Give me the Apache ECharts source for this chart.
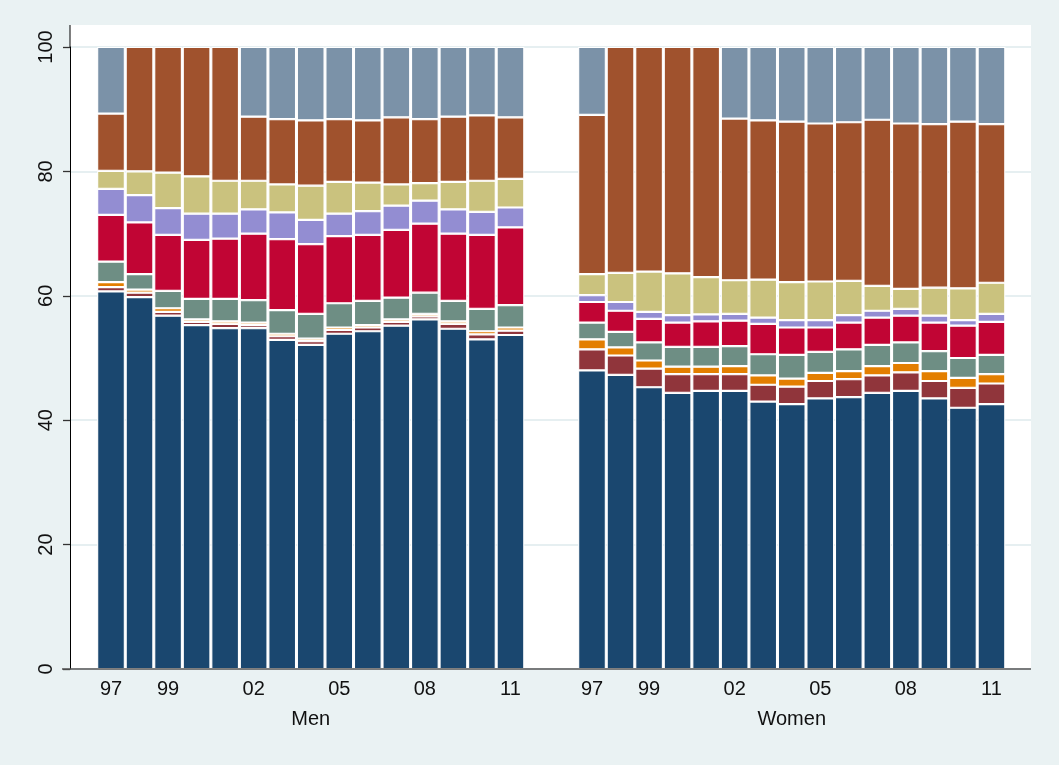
<!DOCTYPE html>
<html>
<head>
<meta charset="utf-8">
<script src="https://cdn.jsdelivr.net/npm/echarts@6/dist/echarts.min.js"></script>
<style>
  html, body { margin: 0; padding: 0; background: #eaf2f3; }
  #chart { width: 1059px; height: 765px; }
</style>
</head>
<body>
<div id="chart"></div>
<script>
// ---- Data (percent shares, stacked bottom to top) ----
const years = ['1997','1998','1999','2000','2001','2002','2003','2004','2005','2006','2007','2008','2009','2010','2011'];
const shownYears = ['1997','1999','2002','2005','2008','2011'];
const groupNames = ['Men', 'Women'];
const yTickStep = 20;

const menNavy      = [60.7, 59.8, 56.8, 55.3, 54.8, 54.8, 52.9, 52.1, 53.9, 54.3, 55.2, 56.2, 54.7, 53.0, 53.7];
const menMaroon    = [0.7, 0.7, 0.6, 0.5, 0.7, 0.5, 0.6, 0.6, 0.6, 0.6, 0.6, 0.5, 0.8, 0.8, 0.7];
const menOrange    = [0.8, 0.5, 0.6, 0.4, 0.4, 0.4, 0.4, 0.4, 0.4, 0.4, 0.4, 0.4, 0.4, 0.5, 0.5];
const menTeal      = [3.3, 2.5, 2.8, 3.3, 3.6, 3.6, 3.8, 4.0, 3.9, 3.9, 3.5, 3.4, 3.3, 3.6, 3.6];
const menCranberry = [7.5, 8.3, 9.0, 9.5, 9.7, 10.7, 11.4, 11.2, 10.8, 10.6, 10.9, 11.1, 10.8, 11.9, 12.5];
const menLavender  = [4.2, 4.4, 4.3, 4.2, 4.0, 3.9, 4.3, 3.9, 3.6, 3.8, 3.9, 3.7, 3.9, 3.7, 3.2];
const menKhaki     = [2.9, 3.8, 5.7, 6.0, 5.3, 4.6, 4.5, 5.5, 5.1, 4.6, 3.4, 2.8, 4.4, 5.0, 4.6];
const menSienna    = [9.2, 20.0, 20.2, 20.8, 21.5, 10.3, 10.5, 10.5, 10.1, 10.0, 10.8, 10.3, 10.5, 10.5, 9.9];
const menBlueGray  = [10.7, null, null, null, null, 11.2, 11.6, 11.8, 11.6, 11.8, 11.3, 11.6, 11.2, 11.0, 11.3];

const womenNavy      = [48.0, 47.3, 45.3, 44.4, 44.7, 44.7, 43.0, 42.6, 43.5, 43.7, 44.4, 44.7, 43.5, 42.0, 42.6];
const womenMaroon    = [3.4, 3.1, 3.0, 3.0, 2.7, 2.7, 2.7, 2.8, 2.8, 2.9, 2.8, 3.0, 2.8, 3.2, 3.3];
const womenOrange    = [1.6, 1.3, 1.3, 1.2, 1.2, 1.3, 1.5, 1.3, 1.3, 1.3, 1.5, 1.5, 1.6, 1.6, 1.5];
const womenTeal      = [2.7, 2.5, 2.9, 3.2, 3.2, 3.2, 3.4, 3.8, 3.4, 3.5, 3.4, 3.3, 3.2, 3.2, 3.1];
const womenCranberry = [3.3, 3.4, 3.8, 3.9, 4.1, 4.1, 4.9, 4.4, 3.9, 4.3, 4.4, 4.3, 4.6, 5.2, 5.3];
const womenLavender  = [1.1, 1.4, 1.1, 1.2, 1.1, 1.1, 1.0, 1.2, 1.2, 1.2, 1.1, 1.1, 1.1, 0.9, 1.3];
const womenKhaki     = [3.4, 4.7, 6.5, 6.7, 6.0, 5.4, 6.1, 6.1, 6.2, 5.5, 4.0, 3.2, 4.5, 5.1, 5.0];
const womenSienna    = [25.6, 36.3, 36.1, 36.4, 37.0, 26.0, 25.6, 25.8, 25.4, 25.5, 26.7, 26.6, 26.3, 26.8, 25.5];
const womenBlueGray  = [10.9, null, null, null, null, 11.5, 11.8, 12.0, 12.3, 12.1, 11.7, 12.3, 12.4, 12.0, 12.4];

const segmentNames = ['Category 1','Category 2','Category 3','Category 4','Category 5','Category 6','Category 7','Category 8','Category 9'];
const menSeries = [menNavy, menMaroon, menOrange, menTeal, menCranberry, menLavender, menKhaki, menSienna, menBlueGray];
const womenSeries = [womenNavy, womenMaroon, womenOrange, womenTeal, womenCranberry, womenLavender, womenKhaki, womenSienna, womenBlueGray];

// ---- Styling ----
const colors = ['#1a476f', '#90353b', '#e37e00', '#6e8e84', '#c10534', '#938dd2', '#cac27e', '#a0522d', '#7b92a8'];
const FONT = 'Liberation Sans, Arial, sans-serif';
const bgColor = '#eaf2f3';

const plotLeft = 70, plotRight = 1031, plotTop = 25, yTop = 47, plotBottom = 669;
const W = 1059, H = 765;
const pitch = (plotRight - plotLeft) / 33.68;
const menLeft = 111 - pitch / 2;
const womenLeft = 592 - pitch / 2;
const groupWidth = pitch * years.length;

const chart = echarts.init(document.getElementById('chart'), null, { renderer: 'canvas' });

function groupXAxis(gridIndex, name) {
  return {
    type: 'category', gridIndex: gridIndex, data: years,
    axisLine: { show: false }, axisTick: { show: false },
    axisLabel: {
      interval: function (idx, val) { return shownYears.indexOf(val) >= 0; },
      formatter: function (v) { return v.slice(2); },
      fontFamily: FONT, fontSize: 20, color: '#111', margin: 10
    },
    name: name, nameLocation: 'middle', nameGap: 40,
    nameTextStyle: { fontFamily: FONT, fontSize: 20, color: '#111' }
  };
}

const series = [];
[menSeries, womenSeries].forEach(function (arrs, g) {
  arrs.forEach(function (arr, i) {
    series.push({
      name: segmentNames[i], type: 'bar', stack: 'g' + g,
      xAxisIndex: g + 1, yAxisIndex: g + 1,
      data: arr, barWidth: pitch - 0.8,
      itemStyle: { color: colors[i], borderColor: '#ffffff', borderWidth: 1.1 },
      emphasis: { disabled: true }, animation: false
    });
  });
});

const option = {
  backgroundColor: bgColor,
  animation: false,
  graphic: [
    { type: 'rect', z: -10, silent: true,
      shape: { x: plotLeft, y: plotTop, width: plotRight - plotLeft, height: plotBottom - plotTop },
      style: { fill: '#ffffff' } },
    { type: 'line', z: 10, silent: true,
      shape: { x1: plotLeft, y1: plotTop, x2: plotLeft, y2: yTop },
      style: { stroke: '#000', lineWidth: 1 } },
    { type: 'line', z: 10, silent: true,
      shape: { x1: 62, y1: plotBottom, x2: plotRight, y2: plotBottom },
      style: { stroke: '#555', lineWidth: 1.5 } }
  ],
  grid: [
    { left: plotLeft, right: W - plotRight, top: yTop, bottom: H - plotBottom },
    { left: menLeft, width: groupWidth, top: yTop, bottom: H - plotBottom },
    { left: womenLeft, width: groupWidth, top: yTop, bottom: H - plotBottom }
  ],
  xAxis: [
    { type: 'category', gridIndex: 0, data: [''], axisLine: { show: false },
      axisTick: { show: false }, axisLabel: { show: false }, splitLine: { show: false } },
    groupXAxis(1, groupNames[0]),
    groupXAxis(2, groupNames[1])
  ],
  yAxis: [
    { type: 'value', gridIndex: 0, min: 0, max: 100, interval: yTickStep,
      axisLine: { show: true, lineStyle: { color: '#000', width: 1 } },
      axisTick: { show: true, length: 7, lineStyle: { color: '#333', width: 1.3 } },
      axisLabel: { rotate: 90, fontFamily: FONT, fontSize: 20, color: '#111', margin: 14 },
      splitLine: { show: true, lineStyle: { color: '#e6eff1', width: 2 } }
    },
    { type: 'value', gridIndex: 1, min: 0, max: 100, show: false },
    { type: 'value', gridIndex: 2, min: 0, max: 100, show: false }
  ],
  series: series
};
chart.setOption(option);
</script>
</body>
</html>
